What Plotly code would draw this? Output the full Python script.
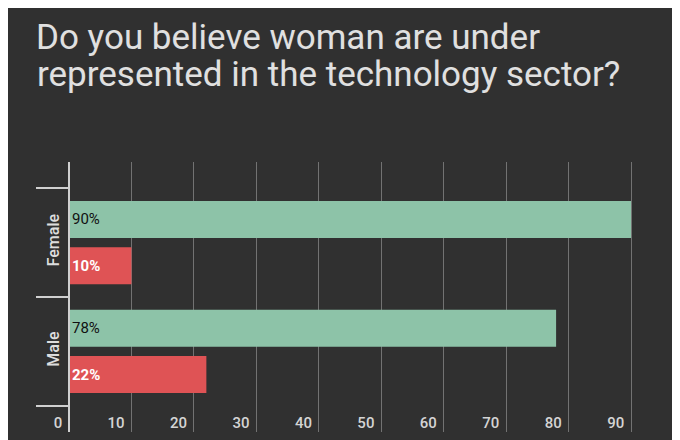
import plotly.graph_objects as go

GENDERS = ["Male", "Female"]
YES = [78, 90]
NO = [22, 10]
TITLE_LINES = ["Do you believe woman are under", "represented in the technology sector?"]

BG = "#303030"
GREEN = "#8dc3a8"
RED = "#df5355"
INK = "#e0e0e0"
AXIS = "#d0d0d0"
GRID = "#727272"
FONT = "Roboto, sans-serif"
BOLD = "Roboto Medium, Roboto, sans-serif"

fig = go.Figure([
    go.Bar(y=GENDERS, x=NO, orientation="h", marker_color=RED, marker_line_width=0,
           texttemplate="<b>%{x:.0f}%</b>", textposition="inside", insidetextanchor="start",
           textfont=dict(color="#ffffff", size=15, family=FONT), name="No"),
    go.Bar(y=GENDERS, x=YES, orientation="h", marker_color=GREEN, marker_line_width=0,
           texttemplate="%{x:.0f}%", textposition="inside", insidetextanchor="start",
           textfont=dict(color="#111111", size=15, family=FONT), name="Yes"),
])

# page is drawn 8px in from the window corner (body margin), so everything is shifted by 8
fig.update_layout(
    width=680, height=440,
    paper_bgcolor=BG, plot_bgcolor=BG,
    font=dict(family=FONT, color=INK),
    margin=dict(l=29, r=8, t=154, b=16),
    showlegend=False,
    barmode="group", bargap=0.15, bargroupgap=0.2,
    title=dict(text=TITLE_LINES[0], x=28 / 680, xanchor="left", xref="container",
               y=1 - 41 / 440, yanchor="bottom", yref="container",
               font=dict(size=35, color=INK, family=FONT)),
    annotations=[dict(text=TITLE_LINES[1], xref="paper", yref="paper",
                      x=-2 / 643, xanchor="left", y=1 + (154 - 89) / 270, yanchor="bottom",
                      showarrow=False, font=dict(size=35, color=INK, family=FONT))],
)

fig.update_xaxes(
    range=[-5.12, 97.84], dtick=10, showgrid=True, gridcolor=GRID, gridwidth=1,
    zeroline=False, showline=False,
    ticks="", ticklabelposition="inside left", ticklabelstandoff=-5,
    ticksuffix="\u00a0\u2009",
    tickfont=dict(size=15, color="#d4d4d4", family=BOLD),
)
# y axis sits at x=0, with the category boundary ticks reaching back to the plot edge
fig.update_yaxes(
    range=[-0.74, 1.74], showgrid=False, zeroline=False,
    anchor="free", position=32 / 643,
    showline=True, linecolor=AXIS, linewidth=2,
    tickson="boundaries", ticks="outside", ticklen=32, tickcolor=AXIS, tickwidth=2,
    tickangle=-90, ticklabelstandoff=3,
    tickfont=dict(size=16, color="#dddddd", family=BOLD),
)

fig.write_html("out.html")
